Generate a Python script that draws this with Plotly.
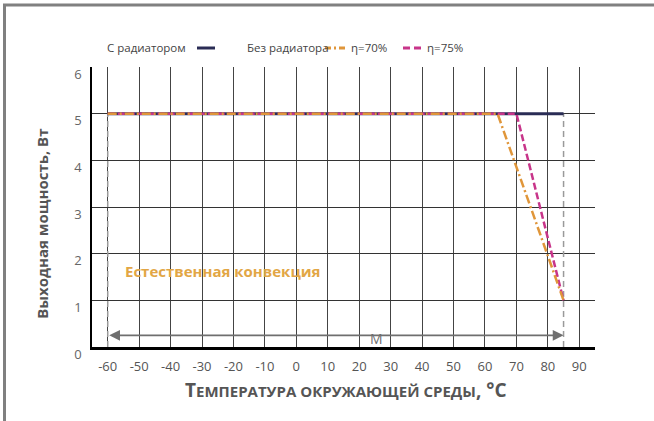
import plotly.graph_objects as go

# ---- data ----
temps_with_rad = [-60, 85]
power_with_rad = [5, 5]

temps_eta70 = [-60, 64, 85]
power_eta70 = [5, 5, 1]

temps_eta75 = [-60, 70, 85]
power_eta75 = [5, 5, 1]

range_limits = [-60, 85]      # operating range boundaries (°C)
boundary_power = [0, 5]
arrow_level = 0.25

x_ticks = [-60, -50, -40, -30, -20, -10, 0, 10, 20, 30, 40, 50, 60, 70, 80, 90]
y_ticks = [0, 1, 2, 3, 4, 5, 6]

NAVY = "#2a2c55"
ORANGE = "#e0963a"
MAGENTA = "#c8358a"
FONT = "Open Sans"

fig = go.Figure()

# boundary dashed verticals
for t in range_limits:
    fig.add_trace(go.Scatter(x=[t, t], y=boundary_power, mode="lines",
                             line=dict(color="#9a9a9a", width=1.5, dash="6px,4px"),
                             hoverinfo="skip", showlegend=False))

fig.add_trace(go.Scatter(x=temps_with_rad, y=power_with_rad, mode="lines",
                         line=dict(color=NAVY, width=3), showlegend=False))
fig.add_trace(go.Scatter(x=temps_eta75, y=power_eta75, mode="lines",
                         line=dict(color=MAGENTA, width=2.5, dash="7px,3px"), showlegend=False))
fig.add_trace(go.Scatter(x=temps_eta70, y=power_eta70, mode="lines",
                         line=dict(color=ORANGE, width=2.5, dash="9px,3px,2px,3px"), showlegend=False))

annotations = []
shapes = []

# double-headed arrow
annotations.append(dict(x=range_limits[1], y=arrow_level, ax=range_limits[0], ay=arrow_level,
                        xref="x", yref="y", axref="x", ayref="y", text="",
                        showarrow=True, arrowhead=2, startarrowhead=2, arrowside="end+start",
                        arrowsize=1.2, arrowwidth=1.8, arrowcolor="#6f6f6f"))
annotations.append(dict(x=25.5, y=0.18, xref="x", yref="y", text="М", showarrow=False,
                        xanchor="center", yanchor="middle",
                        font=dict(family=FONT, size=14, color="#6f6f6f")))

# natural convection label
annotations.append(dict(x=-55, y=1.63, xref="x", yref="y", xanchor="left", yanchor="middle",
                        text="<b>Естественная конвекция</b>",
                        showarrow=False, font=dict(family=FONT, size=15, color="#e2a645")))

# axis titles
annotations.append(dict(x=-0.0994, y=0.44, xref="paper", yref="paper", textangle=-90,
                        xanchor="center", yanchor="middle",
                        text="<b>Выходная мощность, Вт</b>", showarrow=False,
                        font=dict(family=FONT, size=15, color="#555555")))
annotations.append(dict(x=0.505, y=-0.1536, xref="paper", yref="paper",
                        xanchor="center", yanchor="middle",
                        text="<b>Т<span style='font-size:15px'>ЕМПЕРАТУРА ОКРУЖАЮЩЕЙ СРЕДЫ</span>, °С</b>",
                        showarrow=False, font=dict(family=FONT, size=19, color="#555555")))

# legend (text + sample lines)
def px_x(p):
    return (p - 92) / 503
def px_y(p):
    return (347 - p) / 280

leg_font = dict(family=FONT, size=11.5, color="#444444")
ly = px_y(47)
for txt, left in [("С радиатором", 105), ("Без радиатора", 245), ("η=70%", 349), ("η=75%", 425)]:
    annotations.append(dict(x=px_x(left), y=ly, xref="paper", yref="paper", xanchor="left",
                            yanchor="middle", text=txt, showarrow=False, font=leg_font))
shapes.append(dict(type="line", xref="paper", yref="paper", x0=px_x(197), x1=px_x(215), y0=px_y(48), y1=px_y(48),
                   line=dict(color=NAVY, width=3)))
shapes.append(dict(type="line", xref="paper", yref="paper", x0=px_x(325), x1=px_x(345), y0=px_y(48), y1=px_y(48),
                   line=dict(color=ORANGE, width=3, dash="6px,3px,2px,3px")))
shapes.append(dict(type="line", xref="paper", yref="paper", x0=px_x(403), x1=px_x(422), y0=px_y(48), y1=px_y(48),
                   line=dict(color=MAGENTA, width=3, dash="7px,4px")))

# outer frame (top and left)
shapes.append(dict(type="line", xref="paper", yref="paper", x0=px_x(3), x1=px_x(700), y0=px_y(5), y1=px_y(5),
                   line=dict(color="#808080", width=3)))
shapes.append(dict(type="line", xref="paper", yref="paper", x0=px_x(4.5), x1=px_x(4.5), y0=px_y(4), y1=px_y(450),
                   line=dict(color="#808080", width=3)))

fig.update_layout(
    width=654, height=421,
    margin=dict(l=92, r=59, t=67, b=74, autoexpand=False),
    paper_bgcolor="white", plot_bgcolor="white",
    showlegend=False,
    annotations=annotations, shapes=shapes,
    font=dict(family=FONT),
)
fig.update_xaxes(range=[-65, 95], tickvals=x_ticks, ticktext=[str(v) for v in x_ticks],
                 showgrid=True, gridcolor="#444444", gridwidth=1.2,
                 showline=True, linecolor="black", linewidth=2.5, zeroline=False,
                 ticks="", ticklabelstandoff=6, automargin=False,
                 tickfont=dict(family=FONT, size=13, color="#555555"))
fig.update_yaxes(range=[0, 6], tickvals=y_ticks,
                 showgrid=True, gridcolor="#333333", gridwidth=1.2,
                 showline=True, linecolor="black", linewidth=1.5, zeroline=False,
                 ticks="", ticklabelstandoff=6, ticklabelshift=7, automargin=False,
                 tickfont=dict(family=FONT, size=13, color="#666666"))

fig.write_html("out.html", config={"displayModeBar": False},
               post_script="document.body.style.margin='0';document.body.style.overflow='hidden';")
